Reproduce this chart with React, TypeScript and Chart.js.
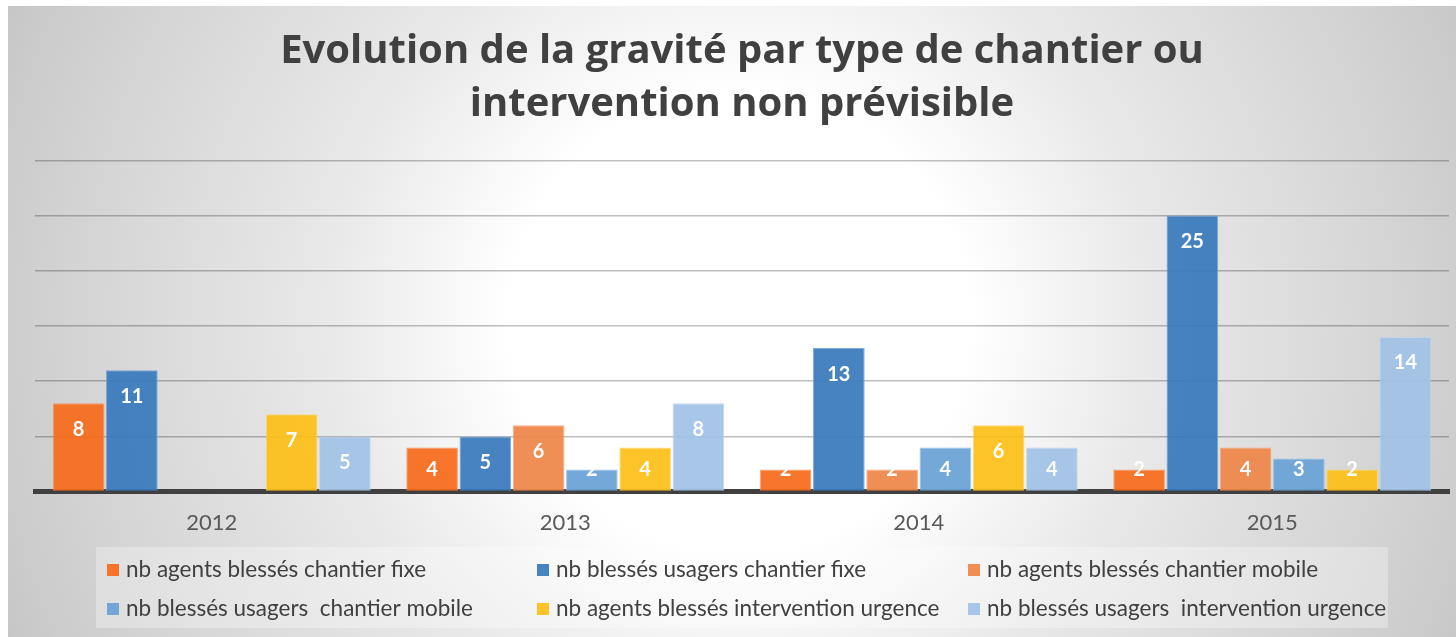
import React, { useEffect, useRef } from "react";
import { Chart, registerables } from "chart.js";

Chart.register(...registerables);

const years = ["2012", "2013", "2014", "2015"];
const titleLines = ["Evolution de la gravité par type de chantier ou", "intervention non prévisible"];

const agentsFixe = [8, 4, 2, 2];
const usagersFixe = [11, 5, 13, 25];
const agentsMobile = [null, 6, 2, 4];
const usagersMobile = [null, 2, 4, 3];
const agentsUrgence = [7, 4, 6, 2];
const usagersUrgence = [5, 8, 4, 14];

const seriesLabels = [
  "nb agents blessés chantier fixe",
  "nb blessés usagers chantier fixe",
  "nb agents blessés chantier mobile",
  "nb blessés usagers  chantier mobile",
  "nb agents blessés intervention urgence",
  "nb blessés usagers  intervention urgence",
];
const seriesColors = [
  "rgba(247,106,28,0.93)",
  "rgba(56,122,187,0.93)",
  "rgba(238,134,72,0.93)",
  "rgba(104,161,214,0.93)",
  "rgba(252,192,24,0.93)",
  "rgba(161,194,229,0.93)",
];
const seriesBorders = [
  "rgba(250,150,100,0.9)",
  "rgba(110,160,210,0.9)",
  "rgba(245,165,120,0.9)",
  "rgba(150,190,230,0.9)",
  "rgba(255,215,110,0.9)",
  "rgba(190,212,238,0.9)",
];
const seriesData = [agentsFixe, usagersFixe, agentsMobile, usagersMobile, agentsUrgence, usagersUrgence];

const bgPlugin = {
  id: "bgGradient",
  beforeDraw(chart: any) {
    const { ctx, width, height } = chart;
    ctx.save();
    const cx = width * 0.505;
    const cy = height * 0.5;
    const g = ctx.createRadialGradient(cx, cy, 0, cx, cy, 820);
    g.addColorStop(0, "#ffffff");
    g.addColorStop(0.28, "#ffffff");
    g.addColorStop(0.5, "#e9e9e9");
    g.addColorStop(0.75, "#d8d8d8");
    g.addColorStop(0.9, "#cdcdcd");
    g.addColorStop(1, "#c4c4c4");
    ctx.fillStyle = g;
    ctx.fillRect(0, 0, width, height);
    ctx.restore();
  },
};

const labelPlugin = {
  id: "barLabels",
  afterDatasetsDraw(chart: any) {
    const { ctx } = chart;
    const base = chart.scales.y.getPixelForValue(0);
    ctx.save();
    ctx.fillStyle = "#ffffff";
    ctx.font = "bold 20px Lato";
    ctx.textAlign = "center";
    ctx.textBaseline = "middle";
    chart.data.datasets.forEach((ds: any, i: number) => {
      const meta = chart.getDatasetMeta(i);
      meta.data.forEach((bar: any, j: number) => {
        const v = ds.data[j];
        if (v === null || v === undefined) return;
        const y = Math.min(bar.y + 26, base - 22);
        ctx.fillText(String(v), bar.x, y);
      });
    });
    ctx.restore();
  },
};

const legendPlugin = {
  id: "boxLegend",
  afterDraw(chart: any) {
    const { ctx } = chart;
    ctx.save();
    const boxX = 88, boxY = 541, boxW = 1292, boxH = 81;
    ctx.fillStyle = "rgba(255,255,255,0.3)";
    ctx.fillRect(boxX, boxY, boxW, boxH);
    const cols = [99, 529, 960];
    const rows = [564, 603];
    ctx.font = "22.5px Lato";
    ctx.textBaseline = "middle";
    ctx.textAlign = "left";
    seriesLabels.forEach((lab, i) => {
      const x = cols[i % 3];
      const y = rows[Math.floor(i / 3)];
      ctx.fillStyle = seriesColors[i];
      ctx.fillRect(x, y - 6, 12, 12);
      ctx.fillStyle = "#404040";
      ctx.fillText(lab, x + 19, y);
    });
    ctx.restore();
  },
};

export default function App() {
  const ref = useRef<HTMLCanvasElement | null>(null);
  useEffect(() => {
    if (!ref.current) return;
    const chart = new Chart(ref.current, {
      type: "bar",
      data: {
        labels: years,
        datasets: seriesData.map((d, i) => ({
          label: seriesLabels[i],
          data: d as any,
          backgroundColor: seriesColors[i],
          borderColor: seriesBorders[i],
          borderWidth: 1,
          barPercentage: 0.97,
          categoryPercentage: 0.904,
        })),
      },
      options: {
        animation: false,
        responsive: false,
        maintainAspectRatio: false,
        layout: { padding: { left: 27, right: 7, top: 0, bottom: 83 } },
        plugins: {
          legend: { display: false },
          tooltip: { enabled: false },
          title: {
            display: true,
            text: titleLines,
            color: "#404040",
            font: { family: "Open Sans", size: 40, weight: "bold", lineHeight: 1.33 },
            padding: { top: 19, bottom: 29 },
          },
        },
        scales: {
          x: {
            grid: { display: false, drawTicks: false },
            border: { display: true, color: "#404040", width: 5 },
            ticks: { color: "#595959", font: { family: "Lato", size: 22 }, padding: 18 },
          },
          y: {
            min: 0,
            max: 30,
            ticks: { display: false, stepSize: 5 },
            grid: { color: "rgba(0,0,0,0.25)", lineWidth: 1.5, drawTicks: false },
            border: { display: false },
          },
        },
      },
      plugins: [bgPlugin, labelPlugin, legendPlugin],
    });
    return () => chart.destroy();
  }, []);
  return (
    <div style={{ position: "fixed", left: 8, top: 6, width: 1448, height: 631 }}>
      <canvas ref={ref} width={1448} height={631} style={{ display: "block" }} />
    </div>
  );
}
